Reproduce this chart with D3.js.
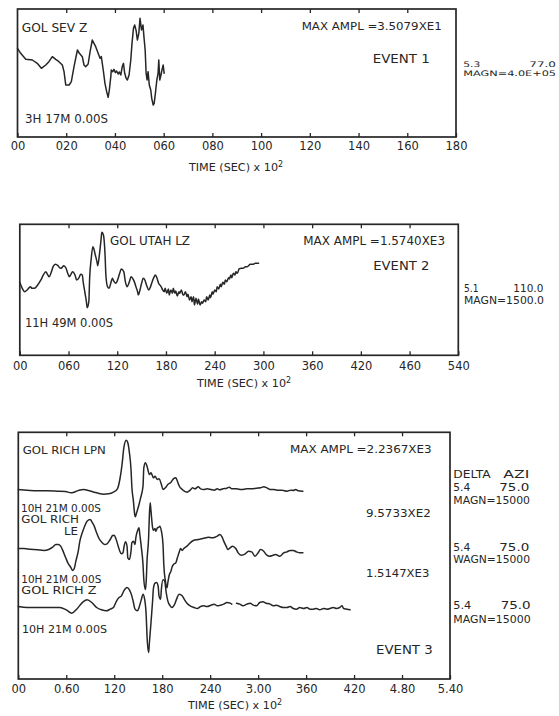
<!DOCTYPE html>
<html><head><meta charset="utf-8">
<script src="https://cdn.jsdelivr.net/npm/d3@7"></script>
<style>
html,body{margin:0;padding:0;background:#fff;}
svg{display:block;}
text{font-family:"DejaVu Sans",sans-serif;fill:#262626;}
</style></head><body>
<svg id="chart" width="559" height="716"></svg>
<script>
// ---------------- DATA ----------------
// Event 1 : GOL SEV Z  (time in units of the axis labels, amplitude in trace units)
const ev1Ticks = [0,20,40,60,80,100,120,140,160,180];
const ev1TickLabels = ["00","020","040","060","080","100","120","140","160","180"];
const ev1Time = [0,1.3,3.4,6.1,8.1,9.8,11.6,12.9,14.3,15.7,17.0,18.4,19.1,19.8,21.2,22.1,23.2,24.6,25.4,26.6,
  27.3,28.0,29.0,29.8,30.7,31.4,32.1,33.1,33.9,34.4,35.2,35.9,36.6,37.2,37.7,38.3,38.5,39.1,39.6,40.2,
  40.7,41.3,41.8,42.4,43.0,43.5,44.0,44.6,45.1,45.8,46.5,47.0,47.6,48.1,48.7,49.2,49.8,50.3,50.9,51.5,
  51.9,52.4,52.8,53.2,53.6,54.1,54.7,55.1,55.7,56.1,56.6,57.2,57.7,58.0,58.4,58.9,59.3,59.8,60.2];
const ev1Amp = [0,-15,-33,-35,-45,-60,-50,-40,-25,-33,-40,-50,-70,-110,-110,-100,-55,-5,-15,-25,
  -50,-55,-47,-10,25,15,5,-15,-30,-25,-65,-105,-130,-147,-125,-85,-65,-70,-63,-73,
  -68,-77,-71,-80,-55,-45,-75,-90,-95,-80,-35,15,60,70,53,25,45,90,55,70,
  35,-5,-75,-95,-70,-110,-125,-150,-170,-165,-135,-95,-75,-35,-95,-80,-65,-50,-75];

// Event 2 : GOL UTAH LZ
const ev2Ticks = [0,60,120,180,240,300,360,420,480,540];
const ev2TickLabels = ["00","060","120","180","240","300","360","420","460","540"];
const ev2Time = [0,3,6,9,13,15,18,22,26,29,32,34,36,39,41,44,47,50,52,54,57,59,61,63,65,68,70,73,75,77,
  78,80,82,83,85,86,88,90,91,93,95,96,98,100,101,103,105,106,108,110,112,114,115,118,120,123,125,128,130,132,
  135,137,139,141,143,145,146,148,150,152,154,156,159,161,163,165,167,169,171,174,176,178,179,181,183,184,186,188,189,191,
  192,194,196,197,199,201,202,204,206,207,209,211,212,214,215,217,219,220,222,224,225,227,229,230,232,234,235,237,238,240,
  242,243,245,247,248,250,252,253,255,257,258,260,261,263,265,266,268,270,273,275,278,280,284,287,290,294];
const ev2Amp = [0,-18,-28,-23,-13,-18,-18,-8,7,22,32,24,17,32,47,54,50,42,44,50,42,27,17,24,32,22,7,14,24,22,
  2,-28,-58,-76,-58,12,72,107,102,82,62,50,82,127,150,142,82,22,-13,-18,-3,12,7,-3,4,27,40,32,2,-13,
  2,17,12,2,-13,-28,-38,-23,-3,12,7,-8,-23,-13,2,14,22,12,-3,-13,-23,-28,-18,-33,-20,-38,-23,-33,-18,-33,
  -26,-41,-28,-33,-23,-38,-38,-28,-43,-36,-53,-43,-58,-43,-68,-48,-66,-50,-68,-58,-63,-53,-58,-43,-53,-38,-46,-28,-36,-23,
  -28,-13,-20,-6,-13,0,-6,7,2,14,10,22,14,27,22,32,27,40,42,42,47,47,54,54,57,57];

// Event 3 : three components
const ev3Ticks = [0,60,120,180,240,300,360,420,480,540];
const ev3TickLabels = ["00","0.60","120","180","240","3.00","360","420","4.80","5.40"];
const ev3Traces = ["LPN","LE","Z"];
const lpnTime = [0,11,24,36,49,59,66,70,76,82,88,95,101,107,113,119,124,127,130,132,
  135,137,139,141,142,144,145.6,146.4,148,151,153,156,157,159,161,164,166,169,171,174,
  176,179,181,184,187,191,194,197,199,201,205,211,215,218,221,225,228,232,236,241,
  245,249,252,256,261,264,267,273,279,286,292,298,303,307,311,315,319,324,330,336,341,344,347,350,356];
const lpnAmp = [0,-2,-4,-4,-5,-6,-10,-8,-2,0,-3,-8,-12,-14,-13,-8,2,30,80,125,
  148,140,110,60,10,-35,-75,-82,-70,-45,-25,10,65,80,70,45,50,35,40,30,
  32,15,0,5,15,22,32,35,25,12,0,-8,-2,5,2,8,2,0,2,0,
  -2,2,-1,2,4,7,2,2,0,2,2,4,5,8,5,0,0,-2,-2,-5,-2,-3,0,-4,-5];
const leTime = [0,7,15,24,32,38,43,47,50,53,56,59,62,66,68,70,72,75,77,80,
  83,86,90,92,95,98,101,105,108,111,115,118,120,122,125,127,129,131,132,134,
  136,137,139,141,142,144,146,147,149,151,152,154,156,157,159,160,161,163,164,165,
  166,168,169,171,172,174,176,177,179,181,182,184,186,187,189,191,192,194,197,199,
  201,203,205,207,211,215,219,225,231,238,242,246,249,252,255,257,260,262,265,268,
  272,275,279,284,288,292,296,300,303,307,310,314,318,322,327,332,336,340,344,348,352,356];
const leAmp = [0,0,-2,-4,-6,-3,4,12,12,7,-8,-26,-43,-58,-66,-60,-38,-8,22,47,
  67,82,87,80,67,47,30,17,12,14,27,39,40,30,7,-8,-16,-13,2,20,
  7,-28,-33,-8,17,22,12,32,52,62,42,2,-48,-93,-123,-98,-38,32,102,137,
  112,62,54,60,52,62,64,67,52,12,-48,-98,-118,-103,-78,-68,-58,-48,-43,-28,
  -13,0,-6,0,7,17,24,27,30,34,32,34,37,42,34,22,7,-3,2,7,
  0,-13,-20,-16,-8,-10,-23,-13,-3,-8,-18,-23,-21,-18,-23,-13,-10,-6,-6,-10,-13,-13];
const zTime = [0,11,24,36,52,60,67,73,81,86,92,98,104,110,115,119,123,126,129,132,
  136,139,142,144,146,149,151,154,156,158,160,161,163,164,166,168,169,171,173,175,
  176,178,179,181,183,185,187,190,192,195,198,201,205,208,211,215,
  220,224,228,232,236,241,245,249,253,257,261,265,267,270,273,277,281,286,290,294,298,
  302,306,310,315,319,323,327,332,336,340,344,348,352,357,361,365,369,373,377,382,
  386,390,394,398,402,405,407,411,415];
const zAmp = [3,0,0,0,0,-7,-17,-5,17,23,15,0,-7,-10,-5,0,20,30,35,50,
  60,53,35,15,-5,-10,0,25,40,25,-25,-85,-135,-105,-45,20,57,73,75,63,
  35,25,55,83,80,45,20,5,0,7,25,40,35,23,13,5,
  0,-3,3,5,3,7,10,5,7,10,15,13,10,null,13,10,5,10,13,7,5,
  15,17,13,10,5,7,3,0,0,3,-3,-5,0,-3,0,-5,-5,-3,-7,-3,
  -5,-3,0,-3,0,5,-3,-5,-7];

// ---------------- DRAWING ----------------
const ink = "#262626";
const svg = d3.select("#chart");
svg.append("rect").attr("width",559).attr("height",716).attr("fill","#fff");

function zip(t, a){ return t.map((d,i)=>({t:d, a:a[i]})); }

function frame(x, top, bottom, ticks, labels, pad){
  const [x0,x1] = x.range();
  const g = svg.append("g");
  g.append("rect").attr("x",x0).attr("y",top).attr("width",x1-x0).attr("height",bottom-top)
    .attr("fill","none").attr("stroke",ink).attr("stroke-width",1.7);
  const gb = g.append("g").attr("transform",`translate(0,${bottom})`)
    .call(d3.axisBottom(x).tickValues(ticks).tickFormat((d,i)=>labels[i]).tickSize(-4).tickPadding(pad));
  const gt = g.append("g").attr("transform",`translate(0,${top})`)
    .call(d3.axisTop(x).tickValues(ticks.slice(1,-1)).tickFormat("").tickSize(-4));
  [gb,gt].forEach(a=>{
    a.select(".domain").remove();
    a.selectAll("line").attr("stroke",ink).attr("stroke-width",1.3);
    a.attr("font-family",null).attr("font-size",null);
  });
  gb.selectAll("text").attr("font-size",11.5).attr("fill",ink);
}

function title(cx, y){
  const t = svg.append("text").attr("x",cx).attr("y",y).attr("text-anchor","middle").attr("font-size",11.2);
  t.append("tspan").text("TIME (SEC) x 10");
  t.append("tspan").attr("dy",-4).attr("font-size",8).text("2");
}

function label(txt, x, y, size, width, anchor){
  const t = svg.append("text").attr("x",x).attr("y",y).attr("font-size",size)
    .attr("text-anchor",anchor||"start").text(txt);
  if (width) t.attr("textLength",width).attr("lengthAdjust","spacingAndGlyphs");
  return t;
}

function trace(data, x, y, curve){
  svg.append("path").datum(data)
    .attr("fill","none").attr("stroke",ink).attr("stroke-width",1.5)
    .attr("stroke-linejoin","round").attr("stroke-linecap","round")
    .attr("d", d3.line().defined(d=>d.a!=null).x(d=>x(d.t)).y(d=>y(d.a)).curve(curve||d3.curveMonotoneX));
}

// ---- Event 1 ----
const x1 = d3.scaleLinear().domain([0,180]).range([17.5,456]);
const y1 = d3.scaleLinear().domain([-266,118]).range([137,9]);
frame(x1, 9, 137, ev1Ticks, ev1TickLabels, 4.8);
trace(zip(ev1Time, ev1Amp), x1, y1, d3.curveLinear);
title(236, 170.5);
label("GOL SEV Z", 21.7, 31.7, 11.5, 65.7);
label("3H 17M 0.00S", 25, 123.3, 11.5, 83);
label("MAX AMPL =3.5079XE1", 301.7, 29.5, 10.5, 140);
label("EVENT 1", 372.7, 63, 13, 57);
label("5.3", 463.3, 66.6, 7.6, 17);
label("77.0", 556, 66.6, 7.6, 26.7, "end");
label("MAGN=4.0E+05", 463.3, 75.8, 7.6, 92.7);

// ---- Event 2 ----
const x2 = d3.scaleLinear().domain([0,540]).range([19.8,458.3]);
const y2 = d3.scaleLinear().domain([-219,174]).range([355.3,224.3]);
frame(x2, 224.3, 355.3, ev2Ticks, ev2TickLabels, 6.5);
trace(zip(ev2Time, ev2Amp), x2, y2);
title(244, 386.5);
label("GOL UTAH LZ", 110, 245, 11.5, 80);
label("11H 49M 0.00S", 25, 326.7, 11.5, 88);
label("MAX AMPL =1.5740XE3", 303.3, 245, 11.5, 141.7);
label("EVENT 2", 373.3, 270, 13, 56);
label("5.1", 464, 291.7, 10.5, 14.5);
label("110.0", 543.3, 291.7, 10.5, 30, "end");
label("MAGN=1500.0", 464, 304.3, 10.5, 80);

// ---- Event 3 ----
const x3 = d3.scaleLinear().domain([0,540]).range([18.3,450]);
const base3 = d3.scalePoint().domain(ev3Traces).range([489.5,607.5]);
const amp3 = d3.scaleLinear().domain([-300,300]).range([100,-100]);
frame(x3, 432.3, 679, ev3Ticks, ev3TickLabels, 6.1);
const ev3Data = {LPN: zip(lpnTime, lpnAmp), LE: zip(leTime, leAmp), Z: zip(zTime, zAmp)};
ev3Traces.forEach(k => trace(ev3Data[k], x3, a => base3(k) + amp3(a)));
title(235, 709);
label("GOL RICH LPN", 22.7, 454, 10.5, 83);
label("10H 21M 0.00S", 21, 511.7, 10.5, 80);
label("GOL RICH", 21.3, 523.3, 11, 57.7);
label("LE", 64, 535, 11, 14);
label("10H 21M 0.00S", 21.3, 582.7, 10.5, 80);
label("GOL RICH Z", 21.3, 594.3, 11, 75.3);
label("10H 21M 0.00S", 22, 632.7, 10.5, 85);
label("MAX AMPL =2.2367XE3", 290, 453.3, 11, 141.7);
label("9.5733XE2", 366, 516.7, 11, 64.7);
label("1.5147XE3", 366, 576.7, 11, 63.3);
label("EVENT 3", 376, 654, 13, 56.7);
label("DELTA", 453.3, 478.3, 10.5, 37.3);
label("AZI", 529.3, 478.3, 10.5, 26, "end");
label("5.4", 453.3, 491, 10.5, 17);
label("75.0", 529.3, 491, 10.5, 30, "end");
label("MAGN=15000", 453.3, 504, 10.5, 76.7);
label("5.4", 453.3, 550.7, 10.5, 17);
label("75.0", 529.3, 550.7, 10.5, 30, "end");
label("WAGN=15000", 453.3, 562.7, 10.5, 76.7);
label("5.4", 453.3, 609.3, 10.5, 18);
label("75.0", 530.7, 609.3, 10.5, 30, "end");
label("MAGN=15000", 453.3, 622.7, 10.5, 77.3);
</script>
</body></html>
